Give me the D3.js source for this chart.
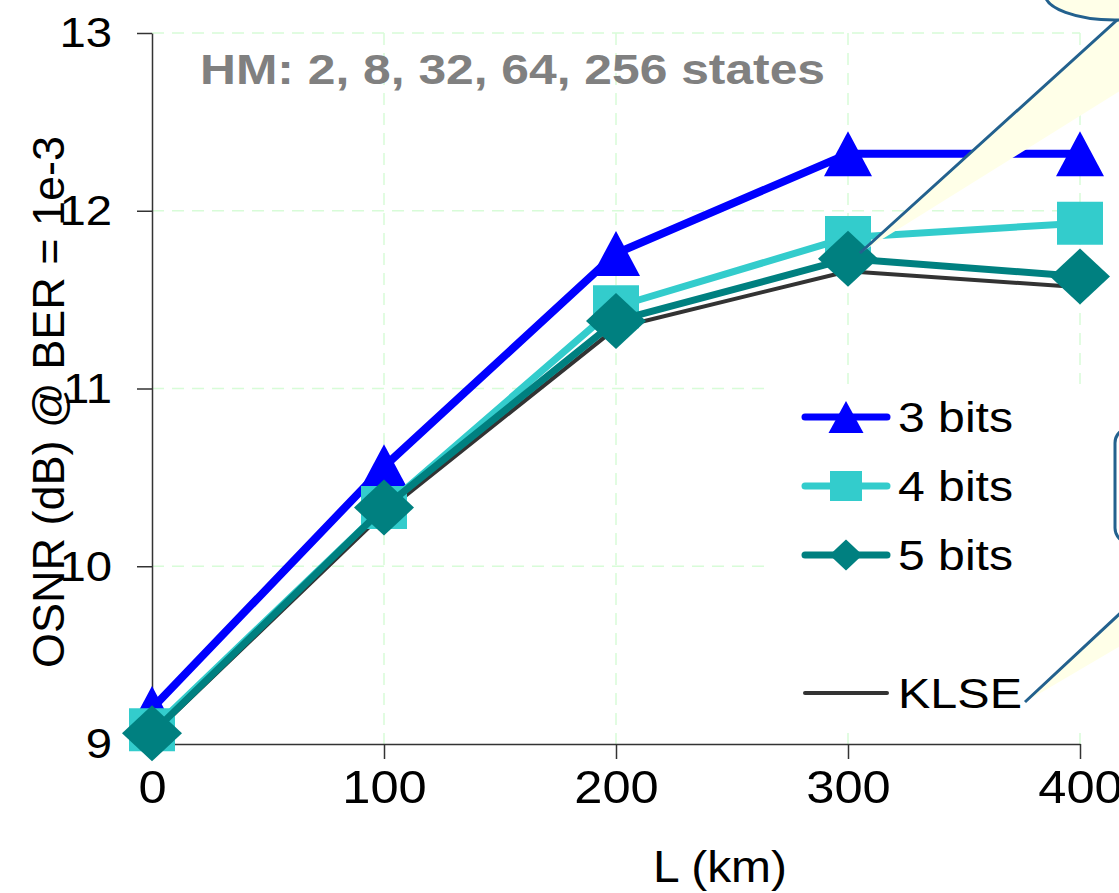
<!DOCTYPE html>
<html><head><meta charset="utf-8">
<script src="https://cdn.jsdelivr.net/npm/d3@7"></script>
<style>
  body { margin: 0; background: #fff; }
  text { font-family: Arial, "Liberation Sans", sans-serif; }
</style>
</head>
<body>
<svg id="chart"></svg>
<script>

// data
var distances = [0, 100, 200, 300, 400];
var bits3 = [9.2, 10.56, 11.76, 12.32, 12.32];
var bits4 = [9.08, 10.33, 11.46, 11.85, 11.93];
var bits5 = [9.06, 10.33, 11.38, 11.73, 11.63];
var klse  = [9.05, 10.30, 11.34, 11.66, 11.57];
var xTicks = [0, 100, 200, 300, 400];
var yTicks = [9, 10, 11, 12, 13];
var seriesNames = ["3 bits", "4 bits", "5 bits", "KLSE"];

var width = 1119, height = 893;
var stretch = 1.1;   // the original is a bit wider than tall

var svg = d3.select("#chart")
    .attr("width", width)
    .attr("height", height);

var x = d3.scaleLinear().domain([0, 400]).range([152, 1080]);
var y = d3.scaleLinear().domain([9, 13]).range([744, 33]);

// marker paths, w x h box centred on 0,0
function triangle(w, h) { return "M0," + (-h/2) + "L" + (w/2) + "," + (h/2) + "L" + (-w/2) + "," + (h/2) + "Z"; }
function square(w, h)   { return "M" + (-w/2) + "," + (-h/2) + "h" + w + "v" + h + "h" + (-w) + "Z"; }
function diamond(w, h)  { return "M0," + (-h/2) + "L" + (w/2) + ",0L0," + (h/2) + "L" + (-w/2) + ",0Z"; }

var series = [
  { name: seriesNames[3], values: klse,  color: "#333333", width: 4, shape: null },
  { name: seriesNames[0], values: bits3, color: "#0000ff", width: 8, shape: triangle, w: 48, h: 45, lw: 35, lh: 32 },
  { name: seriesNames[1], values: bits4, color: "#33cccc", width: 7, shape: square,   w: 46, h: 43, lw: 32, lh: 30 },
  { name: seriesNames[2], values: bits5, color: "#008080", width: 7, shape: diamond,  w: 60, h: 56, lw: 33, lh: 31 }
];

// grid
var grid = svg.append("g").attr("stroke", "#d8fcd8").attr("stroke-width", 1.5).attr("stroke-dasharray", "12,8");
grid.selectAll(".gx").data(xTicks.slice(1)).enter().append("line")
    .attr("x1", function(d) { return x(d); }).attr("x2", function(d) { return x(d); })
    .attr("y1", y(13)).attr("y2", y(9));
grid.selectAll(".gy").data(yTicks.slice(1)).enter().append("line")
    .attr("x1", x(0)).attr("x2", x(400))
    .attr("y1", function(d) { return y(d); }).attr("y2", function(d) { return y(d); });

// axes
var xAxis = svg.append("g")
    .attr("transform", "translate(0," + y(9) + ")")
    .call(d3.axisBottom(x).tickValues(xTicks).tickSize(15).tickSizeOuter(0).tickPadding(11));
xAxis.selectAll("text")
    .attr("font-size", 46).attr("fill", "#000")
    .attr("transform", "scale(" + stretch + ",1)");

var yAxis = svg.append("g")
    .attr("transform", "translate(" + x(0) + ",0)")
    .call(d3.axisLeft(y).tickValues(yTicks).tickFormat(d3.format("d")).tickSize(15).tickSizeOuter(0).tickPadding(25));
yAxis.selectAll("text")
    .attr("font-size", 43).attr("fill", "#000")
    .attr("x", -40 / stretch)
    .attr("transform", "scale(" + stretch + ",1)");

svg.selectAll(".domain").attr("stroke", "#333").attr("stroke-width", 1.5);
svg.selectAll(".tick line").attr("stroke", "#333").attr("stroke-width", 1.5);

svg.append("text")
    .attr("x", 720).attr("y", 882)
    .attr("text-anchor", "middle")
    .attr("font-size", 45)
    .attr("textLength", 134).attr("lengthAdjust", "spacingAndGlyphs")
    .text("L (km)");

svg.append("text")
    .attr("transform", "translate(64,402) rotate(-90)")
    .attr("text-anchor", "middle")
    .attr("font-size", 45)
    .text("OSNR (dB) @ BER = 1e-3");

svg.append("text")
    .attr("x", 200).attr("y", 84)
    .attr("font-size", 42).attr("font-weight", "bold").attr("fill", "#808080")
    .attr("textLength", 625).attr("lengthAdjust", "spacingAndGlyphs")
    .text("HM: 2, 8, 32, 64, 256 states");

// legend box hides the grid behind it
svg.append("rect").attr("x", 770).attr("y", 384).attr("width", 330).attr("height", 343).attr("fill", "#fff");

// series
var line = d3.line()
    .x(function(d, i) { return x(distances[i]); })
    .y(function(d) { return y(d); })
    .curve(d3.curveLinear);

series.forEach(function(s) {
  svg.append("path")
      .datum(s.values)
      .attr("fill", "none")
      .attr("stroke", s.color)
      .attr("stroke-width", s.width)
      .attr("stroke-linejoin", "round")
      .attr("d", line);
  if (s.shape) {
    svg.selectAll(null).data(s.values).enter().append("path")
        .attr("transform", function(d, i) { return "translate(" + x(distances[i]) + "," + y(d) + ")"; })
        .attr("fill", s.color)
        .attr("d", s.shape(s.w, s.h));
  }
});

// legend
var legendOrder = [series[1], series[2], series[3], null, series[0]];
legendOrder.forEach(function(s, i) {
  if (!s) return;
  var ly = 417 + i * 69;
  var g = svg.append("g").attr("transform", "translate(0," + ly + ")");
  g.append("line")
      .attr("x1", 805).attr("x2", 887).attr("y1", 0).attr("y2", 0)
      .attr("stroke", s.color).attr("stroke-width", s.width === 4 ? 4 : 7)
      .attr("stroke-linecap", "round");
  if (s.shape) {
    g.append("path").attr("transform", "translate(846,0)")
        .attr("fill", s.color).attr("d", s.shape(s.lw, s.lh));
  }
  g.append("text")
      .attr("x", 898).attr("y", 15)
      .attr("font-size", 42)
      .attr("textLength", s.name === "KLSE" ? 124 : 115).attr("lengthAdjust", "spacingAndGlyphs")
      .text(s.name);
});

// callouts
var calloutFill = "#ffffe8", calloutStroke = "#23618e";
var callouts = svg.append("g").attr("fill", calloutFill).attr("stroke", calloutStroke).attr("stroke-width", 3).attr("stroke-linejoin", "miter");

// upper callout pointing at the 5 bits point at 300 km
callouts.append("path")
    .attr("d", "M860,253L1140,-0.7L1140,78.4");
callouts.append("ellipse")
    .attr("cx", 1115).attr("cy", -6).attr("rx", 70).attr("ry", 26);

// box at the right edge
callouts.append("rect")
    .attr("x", 1115).attr("y", 428).attr("width", 60).attr("height", 115).attr("rx", 15)
    .attr("fill", "#fff");

// lower callout pointing at KLSE
callouts.append("path")
    .attr("d", "M1025,702L1140,594.8L1140,634.5");

</script>
</body>
</html>
